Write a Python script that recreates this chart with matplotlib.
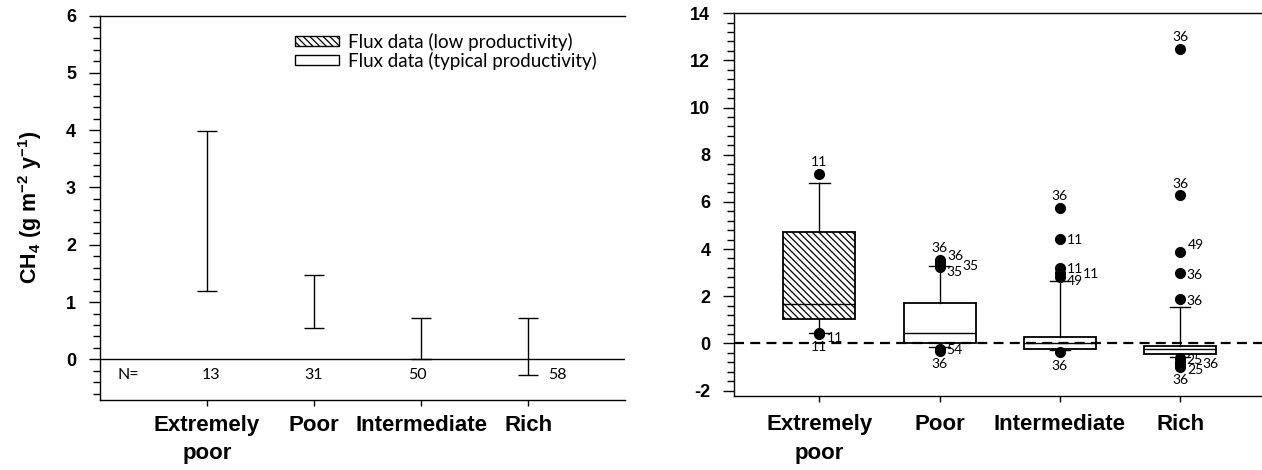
import numpy as np
import matplotlib
matplotlib.use('Agg')
import matplotlib.pyplot as plt
from matplotlib.patches import Patch
from matplotlib.ticker import MultipleLocator, AutoMinorLocator

plt.rcParams['font.family'] = 'Liberation Sans'
plt.rcParams['axes.unicode_minus'] = False
plt.rcParams['hatch.linewidth'] = 0.9
plt.rcParams['mathtext.fontset'] = 'custom'
plt.rcParams['mathtext.rm'] = 'Liberation Sans:bold'
plt.rcParams['mathtext.bf'] = 'Liberation Sans:bold'

categories = ['Extremely\npoor', 'Poor', 'Intermediate', 'Rich']

# CH4 range per peatland class (left panel)
range_low = [1.19, 0.55, 0.00, -0.27]
range_high = [3.99, 1.47, 0.72, 0.72]
n_sites = [13, 31, 50, 58]

# box statistics of flux data (right panel)
q1 = [1.03, 0.00, -0.24, -0.45]
median = [1.65, 0.45, 0.02, -0.24]
q3 = [4.71, 1.73, 0.28, -0.10]
whislo = [0.42, -0.14, -0.28, -0.59]
whishi = [6.79, 3.28, 2.64, 1.54]

# outliers and their case labels
flier_values = [
    [7.20, 0.42, 0.40],
    [3.54, 3.42, 3.32, 3.25, -0.22, -0.31],
    [5.73, 4.44, 3.20, 3.00, 2.83, -0.38],
    [12.49, 6.27, 3.89, 2.97, 1.87, -0.64, -0.80, -0.92, -0.99],
]
flier_labels = [
    ['11', '11', '11'],
    ['36', '36', '35', '35', '54', '36'],
    ['36', '11', '11', '11', '49', '36'],
    ['36', '36', '49', '36', '36', '25', '36', '25', '36'],
]
flier_spots = [
    ['above', 'rightdown', 'below'],
    ['above', 'rightup', 'farright', 'rightdown', 'right', 'below'],
    ['above', 'right', 'right', 'farright', 'rightdown', 'below'],
    ['above', 'above', 'rightup', 'right', 'right', 'right', 'farright', 'rightdown', 'below'],
]
spot_offsets = {
    'above': (0, 8.5), 'below': (0, -9.5), 'right': (10.5, -1),
    'rightup': (11.5, 4.5), 'rightdown': (11, -3.5), 'farright': (22, -1),
}

hatch = '\\\\\\\\\\'
label_font = 'Lato'
pos = np.arange(1, 5)

fig = plt.figure(figsize=(12.62, 4.70), dpi=100)
ax1 = fig.add_axes([0.079, 0.150, 0.416, 0.817])
ax2 = fig.add_axes([0.5816, 0.158, 0.4184, 0.814])


def style_axis(ax, xpad):
    ax.spines['right'].set_visible(False)
    for s in ['left', 'bottom', 'top']:
        ax.spines[s].set_linewidth(1.0)
    ax.tick_params(axis='y', which='major', direction='out', length=8, width=1,
                   labelsize=13, pad=9)
    ax.tick_params(axis='y', which='minor', direction='out', length=5, width=1)
    ax.tick_params(axis='x', which='major', direction='out', length=4.5, width=1,
                   labelsize=16, pad=xpad)
    ax.set_xticks(pos)
    ax.set_xticklabels(categories, fontweight='bold', linespacing=1.45,
                       va='top')
    for t in ax.get_yticklabels():
        t.set_fontweight('bold')


# left panel: range bars
mid = [(lo + hi) / 2 for lo, hi in zip(range_low, range_high)]
yerr = [[m - lo for m, lo in zip(mid, range_low)],
        [hi - m for m, hi in zip(mid, range_high)]]
ax1.errorbar(pos, mid, yerr=yerr, fmt='none', ecolor='black', elinewidth=1,
             capsize=7.2, capthick=1)
ax1.axhline(0, color='black', lw=1)
ax1.set_xlim(0, 4.9)
ax1.set_ylim(-0.7, 6)
ax1.yaxis.set_major_locator(MultipleLocator(1))
ax1.yaxis.set_minor_locator(MultipleLocator(0.2))
style_axis(ax1, 6.5)
ax1.set_ylabel(r'CH$_\mathbf{4}$ (g m$^\mathbf{-2}$ y$^\mathbf{-1}$)',
               fontsize=15.5, fontweight='bold', labelpad=16)

ax1.text(0.27, -0.27, 'N=', fontsize=11.5, family=label_font, ha='center', va='center')
n_x = [1.04, 2.0, 2.97, 4.27]
for x, n in zip(n_x, n_sites):
    ax1.text(x, -0.27, str(n), fontsize=11.5, family=label_font, ha='center', va='center')

handles = [Patch(facecolor='white', edgecolor='black', hatch=hatch, lw=1),
           Patch(facecolor='white', edgecolor='black', lw=1)]
ax1.legend(handles, ['Flux data (low productivity)', 'Flux data (typical productivity)'],
           loc='upper left', bbox_to_anchor=(0.372, 0.955), frameon=False,
           prop={'family': label_font, 'size': 13.5}, handlelength=2.35,
           handleheight=0.4, handletextpad=0.5, labelspacing=0.05,
           borderpad=0, borderaxespad=0)

# right panel: box plots
stats = []
for i in range(4):
    stats.append(dict(med=median[i], q1=q1[i], q3=q3[i], whislo=whislo[i],
                      whishi=whishi[i], fliers=np.array(flier_values[i])))
bp = ax2.bxp(stats, positions=pos, widths=0.6, capwidths=0.17, patch_artist=True,
             boxprops=dict(facecolor='white', edgecolor='black', linewidth=1.3),
             medianprops=dict(color='black', linewidth=1),
             whiskerprops=dict(color='black', linewidth=1),
             capprops=dict(color='black', linewidth=1),
             flierprops=dict(marker='o', markerfacecolor='black',
                             markeredgecolor='black', markersize=7))
bp['boxes'][0].set_hatch(hatch)

for x, vals, labs, spots in zip(pos, flier_values, flier_labels, flier_spots):
    for v, lab, sp in zip(vals, labs, spots):
        ax2.annotate(lab, (x, v), xytext=spot_offsets[sp], textcoords='offset points',
                     ha='center', va='center', fontsize=10, family=label_font)

ax2.axhline(0, color='black', lw=1.6, ls=(0, (4.5, 2.8)), zorder=5)
ax2.set_xlim(0.29, 4.68)
ax2.set_ylim(-2.22, 14)
ax2.yaxis.set_major_locator(MultipleLocator(2))
ax2.yaxis.set_minor_locator(AutoMinorLocator(5))
style_axis(ax2, 9)

fig.savefig('out.png', dpi=100)
